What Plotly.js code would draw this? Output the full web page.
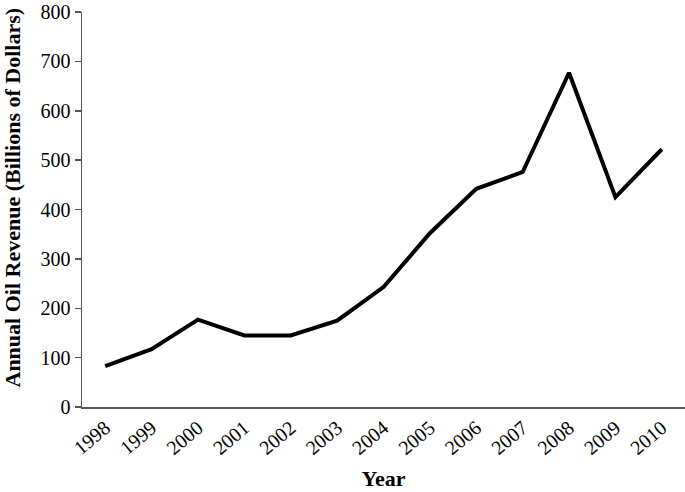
<!DOCTYPE html>
<html>
<head>
<meta charset="utf-8">
<script src="https://cdn.plot.ly/plotly-3.0.1.min.js"></script>
<style>html,body{margin:0;padding:0;background:#fff;}#chart{width:685px;height:492px;}</style>
</head>
<body>
<div id="chart"></div>
<script>
const years = ["1998","1999","2000","2001","2002","2003","2004","2005","2006","2007","2008","2009","2010"];
const revenue = [83, 117, 177, 145, 145, 175, 243, 352, 442, 476, 677, 425, 522];
const yTicks = [0, 100, 200, 300, 400, 500, 600, 700, 800];
const yTitle = "<b>Annual Oil Revenue (Billions of Dollars)</b>";
const xTitle = "<b>Year</b>";

const font = "Liberation Serif, Times New Roman, serif";
Plotly.newPlot("chart", [{
  x: years, y: revenue, type: "scatter", mode: "lines",
  line: {color: "#000", width: 4}, hoverinfo: "skip"
}], {
  width: 685, height: 492,
  margin: {l: 82, r: 0, t: 12, b: 85},
  paper_bgcolor: "#fff", plot_bgcolor: "#fff",
  showlegend: false,
  font: {family: font, color: "#000", size: 20},
  xaxis: {
    type: "category", showgrid: false, zeroline: false,
    showline: true, linecolor: "#555", linewidth: 1.5,
    ticks: "", tickangle: -40, tickfont: {family: font, size: 20},
    range: [-0.5, 12.5],
    title: {text: xTitle, font: {family: font, size: 22}, standoff: 12}
  },
  yaxis: {
    range: [0, 800], tickvals: yTicks, showgrid: false, zeroline: false,
    showline: true, linecolor: "#555", linewidth: 1.5,
    ticks: "outside", ticklen: 6, tickcolor: "#555", tickwidth: 1.5,
    tickfont: {family: font, size: 20}
  },
  annotations: [{
    text: yTitle, textangle: -90, showarrow: false,
    xref: "paper", yref: "paper", x: 0, y: 0.5,
    xanchor: "center", yanchor: "middle", xshift: -70, yshift: 12,
    font: {family: font, size: 22, color: "#000"}
  }]
}, {displayModeBar: false, staticPlot: true});
</script>
</body>
</html>
